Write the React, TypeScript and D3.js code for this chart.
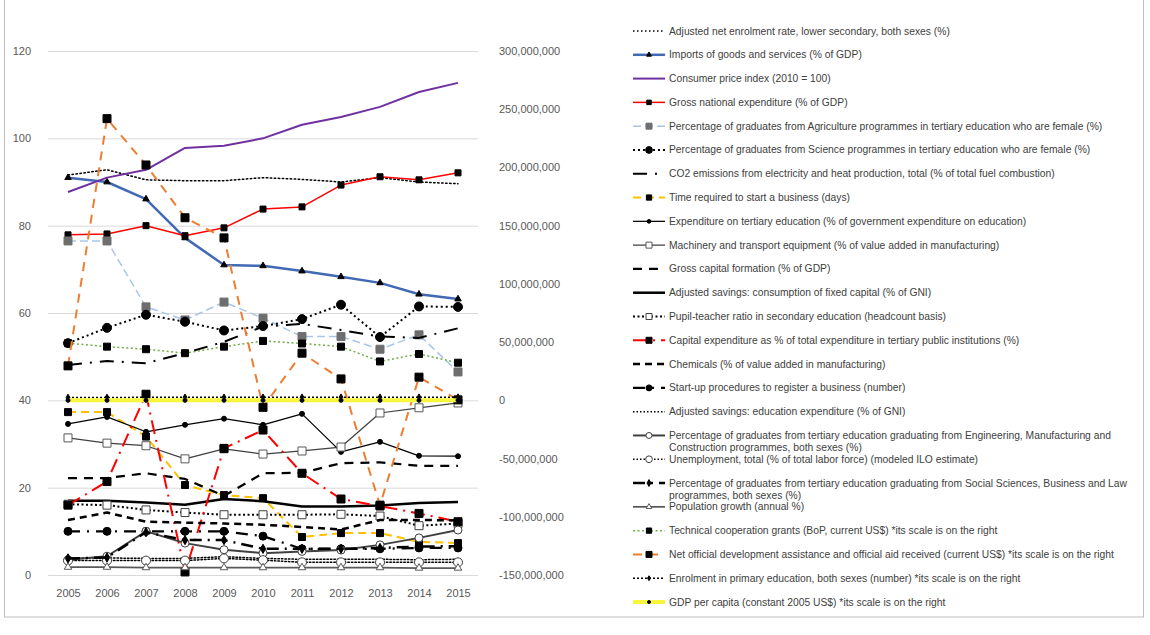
import React, { useRef, useEffect } from 'react';
import * as d3 from 'd3';

const years = ['2005', '2006', '2007', '2008', '2009', '2010', '2011', '2012', '2013', '2014', '2015'];
const leftTicks = [0, 20, 40, 60, 80, 100, 120];
const rightTicks = [-150000000, -100000000, -50000000, 0, 50000000, 100000000, 150000000, 200000000, 250000000, 300000000];

// left axis series
const netEnrolmentLowerSec = [91.6, 92.8, 90.5, 90.3, 90.3, 91.0, 90.6, 90.0, 91.0, 90.0, 89.6];
const importsGoods = [91.0, 90.0, 86.1, 77.2, 71.0, 70.8, 69.6, 68.3, 66.9, 64.3, 63.2];
const consumerPrice = [87.7, 91.0, 92.8, 97.8, 98.3, 100.0, 103.1, 104.9, 107.2, 110.6, 112.7];
const grossNatExpenditure = [77.9, 78.1, 80.0, 77.7, 79.5, 83.8, 84.3, 89.3, 91.2, 90.5, 92.1];
const agriFemale = [76.5, 76.5, 61.4, 58.4, 62.5, 58.8, 54.6, 54.6, 51.7, 55.0, 46.5];
const scienceFemale = [53.1, 56.6, 59.6, 58.0, 56.0, 57.0, 58.6, 61.9, 54.5, 61.5, 61.4];
const co2Electricity = [48.1, 49.0, 48.5, 50.8, 53.4, 56.9, 57.5, 56.1, 54.6, 54.3, 56.5];
const timeStartBusiness = [37.3, 37.3, 31.7, 20.6, 18.3, 17.6, 8.7, 9.6, 9.6, 7.6, 7.3];
const tertiaryExpenditure = [34.6, 36.2, 32.8, 34.4, 35.8, 34.4, 36.9, 28.2, 30.5, 27.3, 27.2];
const machineryTransport = [31.4, 30.2, 29.6, 26.6, 28.9, 27.7, 28.4, 29.3, 37.1, 38.3, 39.4];
const grossCapitalFormation = [22.2, 22.2, 23.3, 22.0, 18.1, 23.3, 23.4, 25.6, 25.8, 25.0, 25.0];
const consumptionFixedCapital = [17.0, 17.0, 16.6, 16.1, 17.4, 16.9, 15.7, 15.7, 15.9, 16.5, 16.7];
const pupilTeacher = [16.2, 16.0, 14.9, 14.3, 13.8, 13.8, 13.8, 13.9, 13.5, 11.3, 11.8];
const capitalExpenditure = [16.0, 21.4, 41.4, 0.7, 29.0, 33.2, 23.3, 17.4, 15.8, 14.1, 12.2];
const chemicals = [12.6, 14.3, 12.2, 12.0, 11.8, 11.5, 11.0, 10.4, 12.6, 12.6, 12.5];
const startupProcedures = [10, 10, 10, 10, 10, 8.9, 6, 6, 6, 6.2, 6.2];
const savingsEducation = [3.9, 3.9, 3.8, 3.8, 4.2, 3.8, 3.6, 3.6, 3.6, 3.5, 3.6];
const engineeringGrads = [3.5, 4.3, 10.0, 7.3, 5.8, 5.0, 5.4, 5.7, 6.9, 8.5, 10.3];
const unemployment = [3.3, 3.3, 3.3, 3.3, 3.8, 3.4, 2.9, 2.9, 2.9, 2.9, 2.9];
const socialSciencesGrads = [3.8, 4.0, 9.8, 8.0, 8.0, 6.0, 6.0, 6.0, 6.2, 6.5, 6.6];
const populationGrowth = [1.8, 1.8, 1.7, 1.7, 1.7, 1.7, 1.7, 1.7, 1.7, 1.6, 1.6];

// right axis series (US$ / number)
const techCoopGrants = [49100000, 46100000, 43900000, 40500000, 46100000, 51000000, 48800000, 46100000, 33400000, 39800000, 32300000];
const netOda = [29600000, 241900000, 202100000, 156800000, 139500000, -6000000, 40500000, 18400000, -90000000, 19900000, 400000];
const primaryEnrolment = [2470000, 2510000, 2560000, 2590000, 2610000, 2640000, 2660000, 2680000, 2700000, 2720000, 2740000];
const gdpPerCapita = [452, 478, 510, 527, 541, 560, 588, 601, 617, 633, 650];

type Marker = 'none' | 'square' | 'circle' | 'triangle' | 'diamond';

interface SeriesDef {
  label: string[];
  values: number[];
  axis: 'left' | 'right';
  color: string;
  width: number;
  dash?: string;
  marker: Marker;
  mSize: number;
  mFill: string;
  mStroke: string;
}

const series: SeriesDef[] = [
  { label: ['Adjusted net enrolment rate, lower secondary, both sexes (%)'], values: netEnrolmentLowerSec, axis: 'left', color: '#000', width: 1.5, dash: '1.5,2.5', marker: 'none', mSize: 0, mFill: '', mStroke: '' },
  { label: ['Imports of goods and services (% of GDP)'], values: importsGoods, axis: 'left', color: '#4169B4', width: 2.5, marker: 'triangle', mSize: 6, mFill: '#000', mStroke: '#000' },
  { label: ['Consumer price index (2010 = 100)'], values: consumerPrice, axis: 'left', color: '#7030A0', width: 2, marker: 'none', mSize: 0, mFill: '', mStroke: '' },
  { label: ['Gross national expenditure (% of GDP)'], values: grossNatExpenditure, axis: 'left', color: '#FF0000', width: 1.5, marker: 'square', mSize: 6, mFill: '#000', mStroke: '#000' },
  { label: ['Percentage of graduates from Agriculture programmes in tertiary education who are female (%)'], values: agriFemale, axis: 'left', color: '#A9C6EA', width: 1.5, dash: '8,4', marker: 'square', mSize: 8, mFill: '#6E6E6E', mStroke: '#6E6E6E' },
  { label: ['Percentage of graduates from Science programmes in tertiary education who are female (%)'], values: scienceFemale, axis: 'left', color: '#000', width: 2, dash: '2,3', marker: 'circle', mSize: 4.5, mFill: '#000', mStroke: '#000' },
  { label: ['CO2 emissions from electricity and heat production, total (% of total fuel combustion)'], values: co2Electricity, axis: 'left', color: '#000', width: 2, dash: '14,8,2,8', marker: 'none', mSize: 0, mFill: '', mStroke: '' },
  { label: ['Time required to start a business (days)'], values: timeStartBusiness, axis: 'left', color: '#FFC000', width: 2, dash: '8,5', marker: 'square', mSize: 7, mFill: '#000', mStroke: '#000' },
  { label: ['Expenditure on tertiary education (% of government expenditure on education)'], values: tertiaryExpenditure, axis: 'left', color: '#000', width: 1.25, marker: 'circle', mSize: 2.5, mFill: '#000', mStroke: '#000' },
  { label: ['Machinery and transport equipment (% of value added in manufacturing)'], values: machineryTransport, axis: 'left', color: '#404040', width: 1.25, marker: 'square', mSize: 8, mFill: '#fff', mStroke: '#595959' },
  { label: ['Gross capital formation (% of GDP)'], values: grossCapitalFormation, axis: 'left', color: '#000', width: 2.25, dash: '9,7', marker: 'none', mSize: 0, mFill: '', mStroke: '' },
  { label: ['Adjusted savings: consumption of fixed capital (% of GNI)'], values: consumptionFixedCapital, axis: 'left', color: '#000', width: 2.5, marker: 'none', mSize: 0, mFill: '', mStroke: '' },
  { label: ['Pupil-teacher ratio in secondary education (headcount basis)'], values: pupilTeacher, axis: 'left', color: '#000', width: 2, dash: '2,2.5', marker: 'square', mSize: 8, mFill: '#fff', mStroke: '#404040' },
  { label: ['Capital expenditure as % of total expenditure in tertiary public institutions (%)'], values: capitalExpenditure, axis: 'left', color: '#FF0000', width: 2, dash: '14,6,2,6', marker: 'square', mSize: 8, mFill: '#000', mStroke: '#000' },
  { label: ['Chemicals (% of value added in manufacturing)'], values: chemicals, axis: 'left', color: '#000', width: 2.5, dash: '7,5', marker: 'none', mSize: 0, mFill: '', mStroke: '' },
  { label: ['Start-up procedures to register a business (number)'], values: startupProcedures, axis: 'left', color: '#000', width: 2.25, dash: '12,7,2,7', marker: 'circle', mSize: 4, mFill: '#000', mStroke: '#000' },
  { label: ['Adjusted savings: education expenditure (% of GNI)'], values: savingsEducation, axis: 'left', color: '#000', width: 1.5, dash: '1.5,2', marker: 'none', mSize: 0, mFill: '', mStroke: '' },
  { label: ['Percentage of graduates from tertiary education graduating from Engineering, Manufacturing and', 'Construction programmes, both sexes (%)'], values: engineeringGrads, axis: 'left', color: '#404040', width: 2, marker: 'circle', mSize: 4, mFill: '#fff', mStroke: '#404040' },
  { label: ['Unemployment, total (% of total labor force) (modeled ILO estimate)'], values: unemployment, axis: 'left', color: '#000', width: 1.5, dash: '1.5,2', marker: 'circle', mSize: 4.5, mFill: '#fff', mStroke: '#404040' },
  { label: ['Percentage of graduates from tertiary education graduating from Social Sciences, Business and Law', 'programmes, both sexes (%)'], values: socialSciencesGrads, axis: 'left', color: '#000', width: 2.5, dash: '12,6,2,6', marker: 'diamond', mSize: 7, mFill: '#000', mStroke: '#000' },
  { label: ['Population growth (annual %)'], values: populationGrowth, axis: 'left', color: '#595959', width: 1.75, marker: 'triangle', mSize: 7, mFill: '#fff', mStroke: '#595959' },
  { label: ['Technical cooperation grants (BoP, current US$) *its scale is on the right'], values: techCoopGrants, axis: 'right', color: '#70AD47', width: 1.5, dash: '2,2.5', marker: 'square', mSize: 7, mFill: '#000', mStroke: '#000' },
  { label: ['Net official development assistance and official aid received (current US$) *its scale is on the right'], values: netOda, axis: 'right', color: '#ED7D31', width: 2, dash: '9,7', marker: 'square', mSize: 8, mFill: '#000', mStroke: '#000' },
  { label: ['Enrolment in primary education, both sexes (number) *its scale is on the right'], values: primaryEnrolment, axis: 'right', color: '#000', width: 1.5, dash: '2,2', marker: 'diamond', mSize: 5, mFill: '#000', mStroke: '#000' },
  { label: ['GDP per capita (constant 2005 US$) *its scale is on the right'], values: gdpPerCapita, axis: 'right', color: '#F7F53C', width: 4, marker: 'circle', mSize: 2, mFill: '#000', mStroke: '#000' },
];

const symbolPath = (kind: Marker, size: number): string => {
  if (kind === 'square') return d3.symbol(d3.symbolSquare, size * size)() || '';
  if (kind === 'circle') return d3.symbol(d3.symbolCircle, Math.PI * size * size)() || '';
  if (kind === 'triangle') return d3.symbol(d3.symbolTriangle, size * size * 0.5)() || '';
  if (kind === 'diamond') return d3.symbol(d3.symbolDiamond, size * size * 0.5)() || '';
  return '';
};

const App: React.FC = () => {
  const svgRef = useRef<SVGSVGElement>(null);

  useEffect(() => {
    if (!svgRef.current) return;
    const svg = d3.select(svgRef.current);
    svg.selectAll('*').remove();

    const plot = { left: 48, right: 478, top: 51, bottom: 575 };
    const font = "'Liberation Sans', Arial, sans-serif";

    const x = d3.scalePoint<string>().domain(years).range([68, 458]);
    const yL = d3.scaleLinear().domain([0, 120]).range([plot.bottom, plot.top]);
    const yR = d3.scaleLinear().domain([-150000000, 300000000]).range([plot.bottom, plot.top]);
    const fmt = d3.formatLocale({ decimal: '.', thousands: ',', grouping: [3], currency: ['$', ''], minus: '-' }).format(',');

    // outer border
    svg.append('rect')
      .attr('x', 4.5).attr('y', -1).attr('width', 1139).attr('height', 618)
      .attr('fill', '#fff').attr('stroke', '#BFBFBF');

    // grid
    svg.append('g').selectAll('line').data(leftTicks).join('line')
      .attr('x1', plot.left).attr('x2', plot.right)
      .attr('y1', d => yL(d) + 0.5).attr('y2', d => yL(d) + 0.5)
      .attr('stroke', '#D9D9D9').attr('stroke-width', 1);

    // axes
    const leftAxis = svg.append('g')
      .attr('transform', `translate(${plot.left},0)`)
      .call(d3.axisLeft(yL).tickValues(leftTicks).tickSize(0).tickPadding(17));
    const rightAxis = svg.append('g')
      .attr('transform', `translate(${plot.right},0)`)
      .call(d3.axisRight(yR).tickValues(rightTicks).tickSize(0).tickPadding(21).tickFormat(d => fmt(d as number)));
    const bottomAxis = svg.append('g')
      .attr('transform', `translate(0,${plot.bottom})`)
      .call(d3.axisBottom(x).tickSize(0).tickPadding(14));
    [leftAxis, rightAxis, bottomAxis].forEach(a => {
      a.select('.domain').remove();
      a.selectAll('text').attr('fill', '#595959').attr('font-size', 11).attr('font-family', font);
    });

    // series
    series.forEach(s => {
      const yScale = s.axis === 'left' ? yL : yR;
      const line = d3.line<number>()
        .x((_, i) => x(years[i]) as number)
        .y(d => yScale(d));
      const g = svg.append('g');
      g.append('path')
        .datum(s.values)
        .attr('fill', 'none')
        .attr('stroke', s.color)
        .attr('stroke-width', s.width)
        .attr('stroke-dasharray', s.dash || null)
        .attr('stroke-linejoin', 'round')
        .attr('stroke-linecap', s.dash && s.dash.startsWith('1.5') ? 'round' : 'butt')
        .attr('d', line);
      if (s.marker !== 'none') {
        g.selectAll('path.m').data(s.values).join('path')
          .attr('class', 'm')
          .attr('d', symbolPath(s.marker, s.mSize))
          .attr('transform', (d, i) => `translate(${x(years[i])},${yScale(d)})`)
          .attr('fill', s.mFill)
          .attr('stroke', s.mStroke)
          .attr('stroke-width', 1);
      }
    });

    // legend
    const legend = svg.append('g');
    const rowY = d3.scaleLinear().domain([0, 24]).range([31, 602]);
    series.forEach((s, i) => {
      const y = rowY(i);
      const item = legend.append('g');
      item.append('line')
        .attr('x1', 633).attr('x2', 665).attr('y1', y).attr('y2', y)
        .attr('stroke', s.color).attr('stroke-width', s.width)
        .attr('stroke-dasharray', s.dash || null);
      if (s.marker !== 'none') {
        item.append('path')
          .attr('d', symbolPath(s.marker, s.mSize * 0.75))
          .attr('transform', `translate(649,${y})`)
          .attr('fill', s.mFill).attr('stroke', s.mStroke).attr('stroke-width', 1);
      }
      s.label.forEach((t, k) => {
        item.append('text')
          .attr('x', 669).attr('y', y + k * 12 + 3.5)
          .attr('fill', '#404040')
          .attr('font-size', 10.3)
          .attr('font-family', font)
          .text(t);
      });
    });
  }, []);

  return (
    <svg
      ref={svgRef}
      width={1150}
      height={635}
      style={{ position: 'absolute', left: 0, top: 0, background: '#fff' }}
    />
  );
};

export default App;
